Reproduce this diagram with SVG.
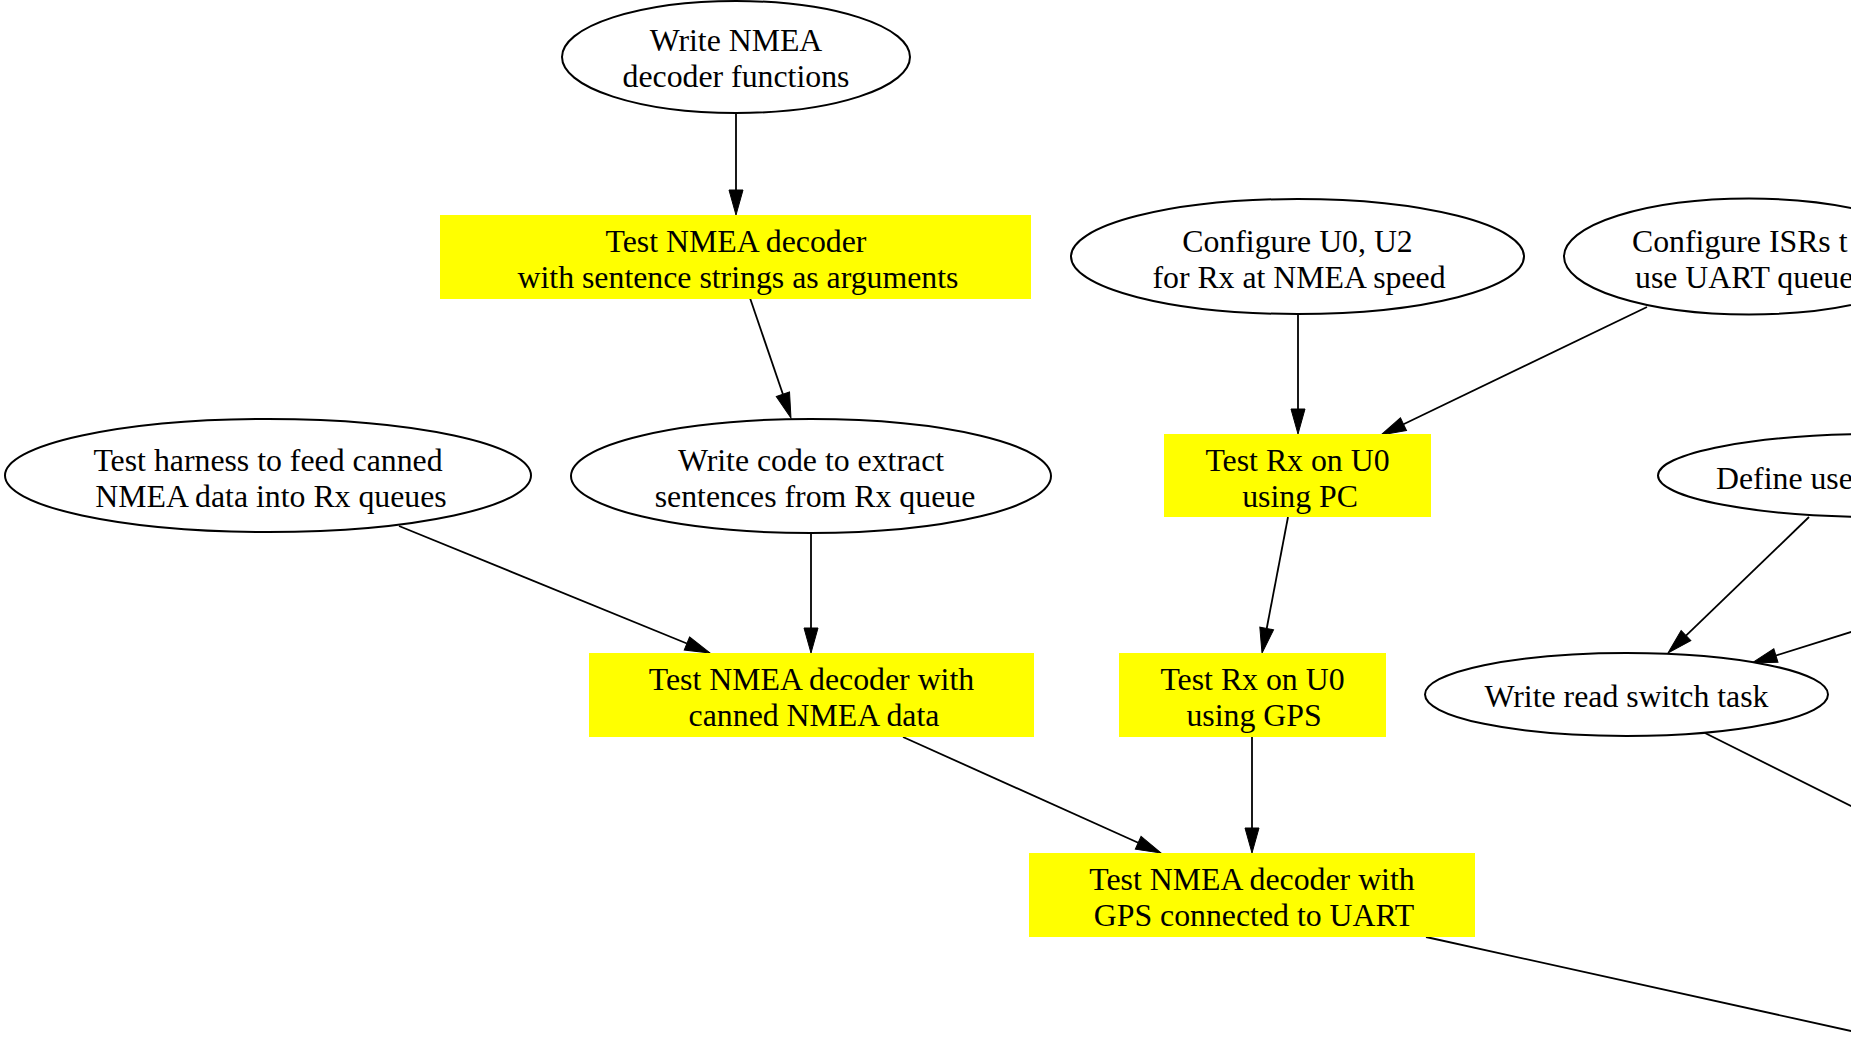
<svg xmlns="http://www.w3.org/2000/svg" width="1851" height="1040" viewBox="0 0 1851 1040">
  <style>
    .bg { fill: #ffffff; }
    .oval { fill: #ffffff; stroke: #000000; stroke-width: 2; }
    .task { fill: #ffff00; stroke: none; }
    .lbl { font-family: "Liberation Serif", "Times New Roman", serif; font-size: 31.8px; fill: #000000; text-anchor: middle; }
    .lbl-left { text-anchor: start; }
    .edge { fill: none; stroke: #000000; stroke-width: 1.8; }
  </style>
  <defs>
    <marker id="arrow" markerUnits="userSpaceOnUse" markerWidth="26" markerHeight="16" viewBox="0 -8 26 16" refX="0" refY="0" orient="auto" overflow="visible">
      <path d="M0,-7 L25,0 L0,7 Z" fill="#000000" stroke="#000000" stroke-width="1"/>
    </marker>
  </defs>

  <rect class="bg" x="0" y="0" width="1851" height="1040"/>

  <!-- connectors -->
  <g id="edges">
    <path class="edge" d="M736,113 L736,190" marker-end="url(#arrow)"/>
    <path class="edge" d="M750,298 L782.9,394.3" marker-end="url(#arrow)"/>
    <path class="edge" d="M399,526 L686.9,643.5" marker-end="url(#arrow)"/>
    <path class="edge" d="M811,533 L811,628" marker-end="url(#arrow)"/>
    <path class="edge" d="M1298,314 L1298,409" marker-end="url(#arrow)"/>
    <path class="edge" d="M1647,307 L1403.5,424.2" marker-end="url(#arrow)"/>
    <path class="edge" d="M1288,517 L1266.7,628.5" marker-end="url(#arrow)"/>
    <path class="edge" d="M903,737 L1138.2,842.8" marker-end="url(#arrow)"/>
    <path class="edge" d="M1252,737 L1252,828" marker-end="url(#arrow)"/>
    <path class="edge" d="M1809,517 L1686,635.6" marker-end="url(#arrow)"/>
    <path class="edge" d="M1880,623 L1775.9,655.5" marker-end="url(#arrow)"/>
    <path class="edge" d="M1705,733 L1900,830.5"/>
    <path class="edge" d="M1426,937 L1900,1041.8"/>
  </g>

  <!-- nodes -->
  <g id="write-nmea-decoder">
    <ellipse class="oval" cx="736" cy="57" rx="174" ry="56"/>
    <text class="lbl" x="736" y="50.5">Write NMEA</text>
    <text class="lbl" x="736" y="86.5">decoder functions</text>
  </g>

  <g id="test-decoder-strings">
    <rect class="task" x="440" y="215" width="591" height="84"/>
    <text class="lbl" x="736" y="251.5">Test NMEA decoder</text>
    <text class="lbl" x="738" y="287.5">with sentence strings as arguments</text>
  </g>

  <g id="configure-u0-u2">
    <ellipse class="oval" cx="1297.5" cy="256.5" rx="226.5" ry="57.5"/>
    <text class="lbl" x="1297.5" y="251.5">Configure U0, U2</text>
    <text class="lbl" x="1299" y="287.5">for Rx at NMEA speed</text>
  </g>

  <g id="configure-isrs">
    <ellipse class="oval" cx="1749" cy="256.5" rx="185" ry="58"/>
    <text class="lbl lbl-left" x="1632" y="251.5">Configure ISRs t</text>
    <text class="lbl lbl-left" x="1635" y="287.5">use UART queue</text>
  </g>

  <g id="test-harness">
    <ellipse class="oval" cx="268" cy="475.5" rx="263" ry="56.5"/>
    <text class="lbl" x="268" y="470.5">Test harness to feed canned</text>
    <text class="lbl" x="271" y="506.5">NMEA data into Rx queues</text>
  </g>

  <g id="extract-sentences">
    <ellipse class="oval" cx="811" cy="476" rx="240" ry="57"/>
    <text class="lbl" x="811" y="470.5">Write code to extract</text>
    <text class="lbl" x="815" y="506.5">sentences from Rx queue</text>
  </g>

  <g id="test-rx-pc">
    <rect class="task" x="1164" y="434" width="267" height="83"/>
    <text class="lbl" x="1297.5" y="470.5">Test Rx on U0</text>
    <text class="lbl" x="1300" y="506.5">using PC</text>
  </g>

  <g id="define-use">
    <ellipse class="oval" cx="1880" cy="475.5" rx="222" ry="41.5"/>
    <text class="lbl lbl-left" x="1716" y="488.5">Define use</text>
  </g>

  <g id="test-decoder-canned">
    <rect class="task" x="589" y="653" width="445" height="84"/>
    <text class="lbl" x="811.5" y="689.5">Test NMEA decoder with</text>
    <text class="lbl" x="814" y="725.5">canned NMEA data</text>
  </g>

  <g id="test-rx-gps">
    <rect class="task" x="1119" y="653" width="267" height="84"/>
    <text class="lbl" x="1252.5" y="689.5">Test Rx on U0</text>
    <text class="lbl" x="1254" y="725.5">using GPS</text>
  </g>

  <g id="read-switch-task">
    <ellipse class="oval" cx="1626.5" cy="694.5" rx="201.5" ry="41.5"/>
    <text class="lbl" x="1626.5" y="706.5">Write read switch task</text>
  </g>

  <g id="test-decoder-uart">
    <rect class="task" x="1029" y="853" width="446" height="84"/>
    <text class="lbl" x="1252" y="889.5">Test NMEA decoder with</text>
    <text class="lbl" x="1254" y="925.5">GPS connected to UART</text>
  </g>
</svg>
